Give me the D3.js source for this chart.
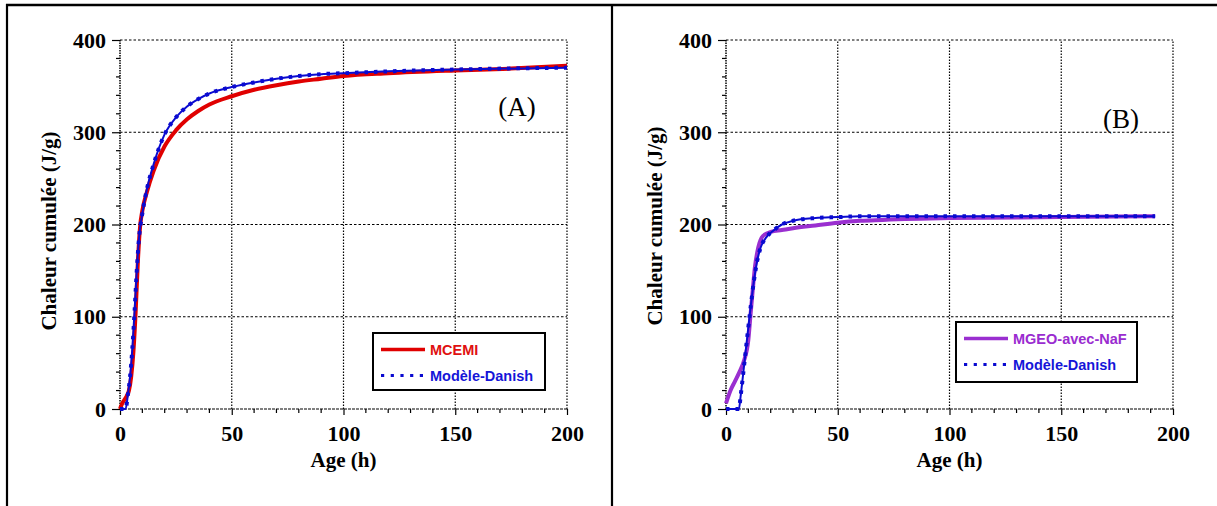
<!DOCTYPE html>
<html><head><meta charset="utf-8">
<script src="https://cdn.jsdelivr.net/npm/d3@7"></script>
<style>body{margin:0;background:#fff}svg{display:block}</style>
</head><body>
<svg id="c" width="1217" height="506"></svg>
<script>
// ---- data ----
const xTicks = [0, 50, 100, 150, 200];
const yTicks = [0, 100, 200, 300, 400];
const xLabel = "Age (h)";
const yLabel = "Chaleur cumulée (J/g)";

// Panel A
const ageMcemi = [0,1,2,3,4,5,6,7,8,9,10,12,15,20,25,30,35,40,50,60,70,80,90,100,120,150,175,200];
const mcemi    = [0,6,10,14,20,35,62,105,160,198,215,235,258,285,302,314,323,330,339,346,351,355,358,361,364,367,369,372];
const ageDanishA = [0,2.5,3.5,4.5,5.5,6.5,7.5,8.5,10,12,15,20,25,30,35,40,50,60,70,80,90,100,120,150,200];
const danishA    = [0,0,15,35,65,105,150,185,212,238,265,298,316,328,336,342,349,354,358,361,363,364,366,368,370];

// Panel B
const ageMgeo = [0,2,4,6,8,10,11,12,13,14,15,16,18,20,25,30,40,50,60,70,80,100,150,192];
const mgeo    = [6,20,30,40,52,75,103,130,155,170,180,186,190,192,194,196,199,202,204,205,206,207,208,209];
const ageDanishB = [0,5.8,6.5,8,9.5,11,12.5,14,15.5,18,21,25,30,40,50,60,100,150,192];
const danishB    = [0,0,13,45,78,110,139,161,175,186,193,200,204,207,208,209,209,209,209];

const panels = [
  {off:0, tag:"(A)", tagX:517, tagY:116, yTitleY:231,
   s1:{x:ageMcemi, y:mcemi, name:"MCEMI", color:"#e00000", text:"#e01010"},
   s2:{x:ageDanishA, y:danishA, name:"Modèle-Danish", color:"#0a0ad0", text:"#1515d8"},
   leg:{x:373, y:333, w:172, h:57}},
  {off:606, tag:"(B)", tagX:515, tagY:128, yTitleY:226,
   s1:{x:ageMgeo, y:mgeo, name:"MGEO-avec-NaF", color:"#9a2fd0", text:"#9a2cd0"},
   s2:{x:ageDanishB, y:danishB, name:"Modèle-Danish", color:"#0a0ad0", text:"#1515d8"},
   leg:{x:350, y:322, w:181, h:60}}
];

const svg = d3.select("#c");
// outer frame lines
svg.append("line").attr("x1",6).attr("x2",1217).attr("y1",5).attr("y2",5).attr("stroke","#000").attr("stroke-width",2.5);
svg.append("line").attr("x1",7).attr("x2",7).attr("y1",4).attr("y2",506).attr("stroke","#000").attr("stroke-width",2.2);
svg.append("line").attr("x1",612).attr("x2",612).attr("y1",4).attr("y2",506).attr("stroke","#000").attr("stroke-width",2.2);

panels.forEach(p => {
  const g = svg.append("g").attr("transform", `translate(${p.off},0)`);
  const x = d3.scaleLinear().domain([0,200]).range([120,567]);
  const y = d3.scaleLinear().domain([0,400]).range([409,40]);

  // grid
  yTicks.forEach(v => {
    g.append("line").attr("x1",x(0)).attr("x2",x(200)).attr("y1",y(v)).attr("y2",y(v))
      .attr("stroke","#000").attr("stroke-width",1).attr("stroke-dasharray", v===0 ? "3,1" : "2.5,2");
  });
  xTicks.forEach(v => {
    g.append("line").attr("x1",x(v)).attr("x2",x(v)).attr("y1",y(0)).attr("y2",y(400))
      .attr("stroke","#000").attr("stroke-width", v===0 ? 1.5 : 1.2).attr("stroke-dasharray", v===0 ? "1.5,1" : "1.5,1.5");
  });

  // y axis ticks
  const yAx = d3.axisLeft(y).tickValues(yTicks).tickSize(8).tickPadding(6).tickFormat(d3.format("d"));
  const ya = g.append("g").attr("transform",`translate(${x(0)},0)`).call(yAx);
  ya.select(".domain").remove();
  ya.selectAll("line").attr("stroke","#000").attr("stroke-width",1.2);
  ya.selectAll("text").attr("font-family","'Liberation Serif','Times New Roman',serif").attr("font-weight","bold").attr("font-size",22).attr("fill","#000");
  const yMinor = d3.range(0,401,20).filter(v => v%100!==0);
  g.append("g").selectAll("line").data(yMinor).join("line")
    .attr("x1",x(0)-4).attr("x2",x(0)).attr("y1",d=>y(d)).attr("y2",d=>y(d)).attr("stroke","#000").attr("stroke-width",1.2);

  // x axis ticks
  const xAx = d3.axisBottom(x).tickValues(xTicks).tickSize(6).tickPadding(10).tickFormat(d3.format("d"));
  const xa = g.append("g").attr("transform",`translate(0,${y(0)})`).call(xAx);
  xa.select(".domain").remove();
  xa.selectAll("line").attr("stroke","#000").attr("stroke-width",1.2);
  xa.selectAll("text").attr("font-family","'Liberation Serif','Times New Roman',serif").attr("font-weight","bold").attr("font-size",22).attr("fill","#000");
  const xMinor = d3.range(0,201,10).filter(v => v%50!==0);
  g.append("g").selectAll("line").data(xMinor).join("line")
    .attr("x1",d=>x(d)).attr("x2",d=>x(d)).attr("y1",y(0)).attr("y2",y(0)+4).attr("stroke","#000").attr("stroke-width",1.2);

  // titles
  g.append("text").attr("x",(x(0)+x(200))/2).attr("y",467).attr("text-anchor","middle")
    .attr("font-family","'Liberation Serif','Times New Roman',serif").attr("font-weight","bold").attr("font-size",21).text(xLabel);
  g.append("text").attr("transform",`translate(56,${p.yTitleY}) rotate(-90)`).attr("text-anchor","middle")
    .attr("font-family","'Liberation Serif','Times New Roman',serif").attr("font-weight","bold").attr("font-size",21).text(yLabel);

  // curves
  const line = d3.line().x(d=>x(d[0])).y(d=>y(d[1])).curve(d3.curveMonotoneX);
  const d1 = p.s1.x.map((v,i)=>[v,p.s1.y[i]]);
  const d2 = p.s2.x.map((v,i)=>[v,p.s2.y[i]]);
  g.append("path").attr("d",line(d1)).attr("fill","none").attr("stroke",p.s1.color).attr("stroke-width",4);
  g.append("path").attr("d",line(d2)).attr("fill","none").attr("stroke",p.s2.color).attr("stroke-width",2);
  g.append("path").attr("d",line(d2)).attr("fill","none").attr("stroke",p.s2.color).attr("stroke-width",4).attr("stroke-dasharray","3.5,6");

  // tag
  g.append("text").attr("x",p.tagX).attr("y",p.tagY).attr("text-anchor","middle")
    .attr("font-family","'Liberation Serif','Times New Roman',serif").attr("font-size",27).text(p.tag);

  // legend
  const L = p.leg;
  const lg = g.append("g");
  lg.append("rect").attr("x",L.x).attr("y",L.y).attr("width",L.w).attr("height",L.h).attr("fill","#fff").attr("stroke","#000").attr("stroke-width",2);
  const r1 = L.y + 16.5, r2 = L.y + 42.5;
  lg.append("line").attr("x1",L.x+8).attr("x2",L.x+52).attr("y1",r1).attr("y2",r1).attr("stroke",p.s1.color).attr("stroke-width",3.5);
  lg.append("line").attr("x1",L.x+8).attr("x2",L.x+52).attr("y1",r2).attr("y2",r2).attr("stroke",p.s2.color).attr("stroke-width",3.2).attr("stroke-dasharray","3.2,6.5");
  lg.append("text").attr("x",L.x+57).attr("y",r1+5).attr("font-family","'Liberation Sans',Arial,sans-serif").attr("font-weight","bold").attr("font-size",14.5).attr("fill",p.s1.text).text(p.s1.name);
  lg.append("text").attr("x",L.x+57).attr("y",r2+5).attr("font-family","'Liberation Sans',Arial,sans-serif").attr("font-weight","bold").attr("font-size",14.5).attr("fill",p.s2.text).text(p.s2.name);
});
</script>
</body></html>
